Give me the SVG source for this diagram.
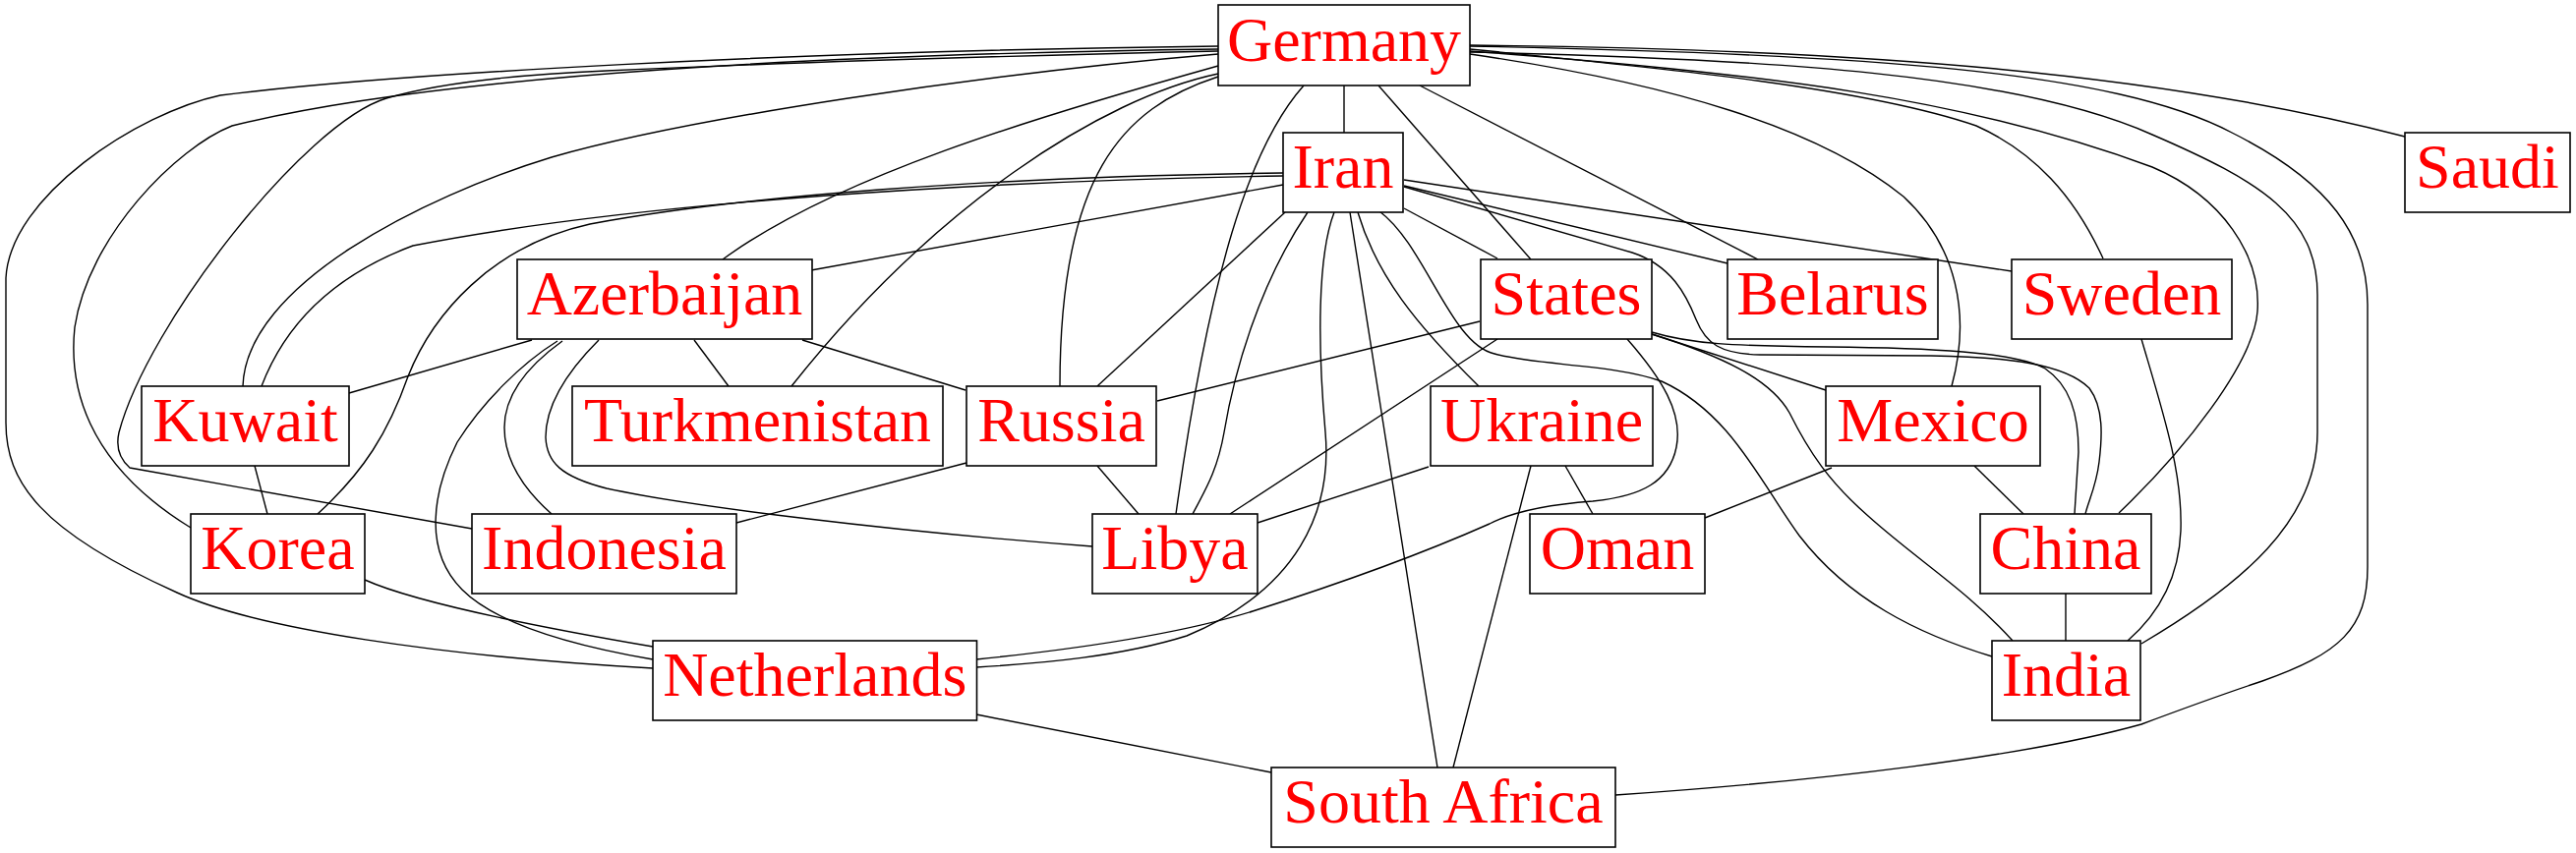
<svg xmlns="http://www.w3.org/2000/svg" width="2620" height="868" viewBox="0 0 2620 868">
<style>
.n rect{fill:#fff;stroke:#000;stroke-width:1.6}
.n text{font-family:"Liberation Serif","Times New Roman",serif;font-size:64px;fill:#ff0000;text-anchor:middle}
.e path{fill:none;stroke:#000;stroke-width:1.4}
</style>
<rect width="2620" height="868" fill="#fff"/>
<g id="connectors" class="e">
<path d="M1239,47 C800,52 400,75 224,97 C140,115 10,200 6,283 L6,430 C6,490 40,540 180,603 C260,640 450,668 664,680"/>
<path d="M1239,50 C850,55 450,75 236,128 C180,150 90,240 76,333 C70,390 85,470 194,537"/>
<path d="M1239,52 Q880,60 617,72 C500,77 434,88 393,100 C310,125 150,330 121,440 Q116,462 132,476 L480,538"/>
<path d="M1239,55 C1000,75 700,120 561,160 C430,200 250,290 247,393"/>
<path d="M1239,67 C1050,120 850,180 735,264"/>
<path d="M1239,75 C1120,100 950,210 805,393"/>
<path d="M1239,78 C1140,110 1078,180 1078,393"/>
<path d="M1326,87 C1270,150 1230,280 1196,523"/>
<path d="M1367,87 L1367,135"/>
<path d="M1402,87 L1557,264"/>
<path d="M1444,87 L1788,264"/>
<path d="M1495,55 C1700,85 1850,130 1936,200 C1990,250 2005,320 1985,393"/>
<path d="M1495,50 C1700,70 1900,90 2010,128 C2070,155 2110,200 2139,263"/>
<path d="M1495,52 C1800,75 2000,100 2189,170 C2260,200 2300,260 2296,317 C2292,370 2220,460 2155,522"/>
<path d="M1495,53 C1800,60 2050,75 2189,137 C2300,185 2357,220 2357,300 L2357,440 C2357,530 2280,595 2178,655"/>
<path d="M1495,47 C1900,55 2150,72 2270,135 C2370,185 2408,240 2408,310 L2408,577 C2408,640 2380,665 2301,693 C2250,710 2210,725 2178,737 C2060,770 1850,795 1643,809"/>
<path d="M1495,46 C1900,50 2200,75 2446,139"/>
<path d="M1305,179 C1000,184 650,205 420,250 C340,280 290,330 266,393"/>
<path d="M1305,176 C1000,180 750,200 600,228 C500,250 440,320 415,383 C395,440 370,480 323,523"/>
<path d="M1305,188 L825,275"/>
<path d="M1307,216 L1116,393"/>
<path d="M1330,216 C1280,290 1255,380 1245,440 C1238,480 1225,500 1213,523"/>
<path d="M1357,216 C1340,260 1340,350 1348,440 C1355,520 1320,600 1207,647 C1140,668 1060,675 993,679"/>
<path d="M1373,216 L1462,781"/>
<path d="M1381,216 C1400,280 1440,330 1504,393"/>
<path d="M1403,215 C1450,250 1475,350 1520,360 C1560,372 1640,370 1690,388 C1760,420 1790,490 1830,545 C1880,610 1950,645 2026,668"/>
<path d="M1428,212 L1523,263"/>
<path d="M1428,189 L1757,268"/>
<path d="M1428,183 L2046,276"/>
<path d="M1428,190 L1660,257 C1700,270 1715,300 1725,325 C1735,350 1750,360 1790,361 L1964,362 C2040,363 2100,370 2125,395 C2140,415 2138,445 2135,470 C2132,495 2124,510 2121,523"/>
<path d="M1505,327 L1177,408"/>
<path d="M1523,345 L1251,523"/>
<path d="M1655,345 C1690,385 1712,420 1705,455 C1698,490 1670,505 1620,510 C1580,513 1540,520 1515,533 C1470,553 1400,582 1274,622 C1200,645 1100,660 993,671"/>
<path d="M1680,340 L1860,398"/>
<path d="M1680,340 C1750,362 1800,385 1820,420 C1840,460 1860,490 1900,525 C1950,570 2000,600 2047,652"/>
<path d="M1680,338 C1720,350 1760,352 1860,353 C1960,354 2050,358 2080,375 C2105,392 2114,420 2114,460 L2110,523"/>
<path d="M1453,475 L1279,532"/>
<path d="M1592,474 L1620,523"/>
<path d="M1557,474 L1478,781"/>
<path d="M1863,476 L1734,527"/>
<path d="M2008,474 L2058,523"/>
<path d="M2178,345 C2200,420 2220,480 2218,540 C2216,590 2195,625 2164,652"/>
<path d="M2101,604 L2101,652"/>
<path d="M541,346 L355,400"/>
<path d="M706,346 L741,393"/>
<path d="M816,346 L982,397"/>
<path d="M567,347 C530,370 490,410 465,450 C440,500 430,560 470,600 C510,640 600,660 664,671"/>
<path d="M572,347 C540,370 513,400 513,435 C513,470 535,500 561,523"/>
<path d="M609,346 C580,375 555,410 555,445 C556,470 570,485 617,497 C700,515 900,540 1111,556"/>
<path d="M983,471 L749,532"/>
<path d="M1116,474 L1158,523"/>
<path d="M259,474 L272,523"/>
<path d="M371,590 C420,612 530,635 664,658"/>
<path d="M993,727 L1293,786"/>
</g>
<g id="Germany" class="n"><rect x="1239" y="5" width="256" height="82"/><text x="1367" y="62">Germany</text></g>
<g id="Iran" class="n"><rect x="1305" y="135" width="122" height="81"/><text x="1366" y="191">Iran</text></g>
<g id="Saudi" class="n"><rect x="2446" y="135" width="168" height="81"/><text x="2530" y="191">Saudi</text></g>
<g id="Azerbaijan" class="n"><rect x="526" y="264" width="300" height="81"/><text x="676" y="320">Azerbaijan</text></g>
<g id="States" class="n"><rect x="1506" y="264" width="174" height="81"/><text x="1593" y="320">States</text></g>
<g id="Belarus" class="n"><rect x="1757" y="264" width="214" height="81"/><text x="1864" y="320">Belarus</text></g>
<g id="Sweden" class="n"><rect x="2046" y="264" width="224" height="81"/><text x="2158" y="320">Sweden</text></g>
<g id="Kuwait" class="n"><rect x="144" y="393" width="211" height="81"/><text x="249.5" y="449">Kuwait</text></g>
<g id="Turkmenistan" class="n"><rect x="582" y="393" width="377" height="81"/><text x="770.5" y="449">Turkmenistan</text></g>
<g id="Russia" class="n"><rect x="983" y="393" width="193" height="81"/><text x="1079.5" y="449">Russia</text></g>
<g id="Ukraine" class="n"><rect x="1455" y="393" width="226" height="81"/><text x="1568" y="449">Ukraine</text></g>
<g id="Mexico" class="n"><rect x="1857" y="393" width="218" height="81"/><text x="1966" y="449">Mexico</text></g>
<g id="Korea" class="n"><rect x="194" y="523" width="177" height="81"/><text x="282.5" y="579">Korea</text></g>
<g id="Indonesia" class="n"><rect x="480" y="523" width="269" height="81"/><text x="614.5" y="579">Indonesia</text></g>
<g id="Libya" class="n"><rect x="1111" y="523" width="168" height="81"/><text x="1195" y="579">Libya</text></g>
<g id="Oman" class="n"><rect x="1556" y="523" width="178" height="81"/><text x="1645" y="579">Oman</text></g>
<g id="China" class="n"><rect x="2014" y="523" width="174" height="81"/><text x="2101" y="579">China</text></g>
<g id="Netherlands" class="n"><rect x="664" y="652" width="329.5" height="81"/><text x="828.75" y="708">Netherlands</text></g>
<g id="India" class="n"><rect x="2026" y="652" width="151" height="81"/><text x="2101.5" y="708">India</text></g>
<g id="SouthAfrica" class="n"><rect x="1293" y="781" width="350" height="81"/><text x="1468" y="837">South Africa</text></g>
</svg>
